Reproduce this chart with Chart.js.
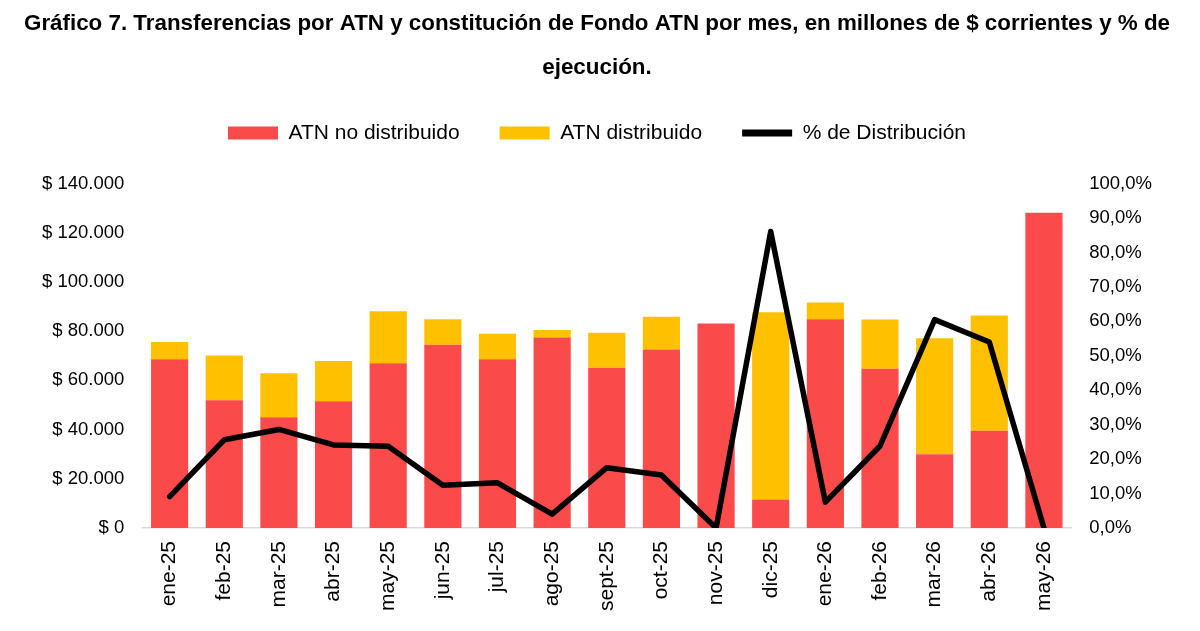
<!DOCTYPE html>
<html>
<head>
<meta charset="utf-8">
<script src="https://cdn.jsdelivr.net/npm/chart.js@4"></script>
<style>
	body { margin: 0; background: #fff; }
	#wrap { width: 1200px; height: 631px; }
</style>
</head>
<body>
<div id="wrap"><canvas id="canvas"></canvas></div>
<script>
var meses = ["ene-25", "feb-25", "mar-25", "abr-25", "may-25", "jun-25", "jul-25", "ago-25", "sept-25", "oct-25", "nov-25", "dic-25", "ene-26", "feb-26", "mar-26", "abr-26", "may-26"];
// millones de $
var noDistribuido = [68600, 51900, 45000, 51500, 67000, 74500, 68600, 77400, 65100, 72600, 83100, 11600, 84800, 64700, 30000, 39500, 128100];
var distribuido = [7000, 18200, 17900, 16400, 21100, 10400, 10400, 3100, 14300, 13300, 0, 76100, 6900, 20000, 47100, 46900, 0];
// % de distribucion (fraccion)
var porcDistribucion = [0.091, 0.256, 0.286, 0.241, 0.237, 0.124, 0.131, 0.040, 0.175, 0.154, 0, 0.861, 0.075, 0.238, 0.605, 0.540, 0];

var tituloLineas = ["Gráfico 7. Transferencias por ATN y constitución de Fondo ATN por mes, en millones de $ corrientes y % de", "ejecución."];

function pesos(v) {
	var s = String(Math.round(v)).replace(/\B(?=(\d{3})+(?!\d))/g, ".");
	return "$ " + s;
}

function porcentaje(v) {
	return (v * 100).toFixed(1).replace(".", ",") + "%";
}

// espacio extra debajo de la leyenda
var legendSpace = {
	id: 'legendSpace',
	beforeInit: function(chart) {
		var fitOrig = chart.legend.fit;
		chart.legend.fit = function() {
			fitOrig.bind(chart.legend)();
			this.height += 30;
		};
	}
};

window.onload = function() {
	Chart.defaults.font.family = "'Liberation Sans', Arial, sans-serif";
	Chart.defaults.color = '#000';
	var ctx = "canvas";
	window.myChart = new Chart(ctx, {
		type: 'bar',
		data: {
			labels: meses,
			datasets: [
			{
				type: 'line',
				label: '% de Distribución',
				data: porcDistribucion,
				yAxisID: 'y2',
				borderColor: '#000',
				backgroundColor: '#000',
				borderWidth: 5.5,
				borderCapStyle: 'round',
				borderJoinStyle: 'round',
				pointRadius: 0,
				tension: 0,
				order: 0
			},
			{
				label: 'ATN no distribuido',
				data: noDistribuido,
				backgroundColor: '#FA4A4A',
				stack: 's1',
				order: 1
			},
			{
				label: 'ATN distribuido',
				data: distribuido,
				backgroundColor: '#FFC000',
				stack: 's1',
				order: 1
			}
			]
		},
		options: {
			responsive: true,
			maintainAspectRatio: false,
			animation: false,
			datasets: {
				bar: { barPercentage: 0.68, categoryPercentage: 1 }
			},
			layout: {
				padding: { left: 24, right: 30, top: 0, bottom: 7 }
			},
			plugins: {
				title: {
					display: true,
					text: tituloLineas,
					font: { family: "'Liberation Sans Narrow', 'Liberation Sans', sans-serif", size: 22.4, weight: 'bold', lineHeight: 2.0 },
					padding: { top: 1, bottom: -8 }
				},
				legend: {
					position: 'top',
					labels: {
						font: { size: 21 },
						usePointStyle: true,
						pointStyleWidth: 50,
						boxHeight: 13,
						padding: 40,
						generateLabels: function(chart) {
							var items = Chart.defaults.plugins.legend.labels.generateLabels(chart);
							items.forEach(function(it) {
								if (it.datasetIndex === 0) {
									it.pointStyle = 'line';
									it.lineWidth = 7;
									it.strokeStyle = '#000';
								} else {
									it.pointStyle = 'rect';
									it.lineWidth = 0;
								}
							});
							items.sort(function(a, b) { return (a.datasetIndex === 0) - (b.datasetIndex === 0) || a.datasetIndex - b.datasetIndex; });
							return items;
						}
					}
				},
				tooltip: { enabled: false }
			},
			scales: {
				x: {
					stacked: true,
					grid: { display: false, drawTicks: false },
					border: { display: true, color: '#D9D9D9', width: 1.5 },
					ticks: { minRotation: 90, maxRotation: 90, font: { size: 21 }, padding: 13 }
				},
				y: {
					stacked: true,
					min: 0,
					max: 140000,
					grid: { display: false, drawTicks: false },
					border: { display: false },
					ticks: { stepSize: 20000, font: { size: 18.5 }, padding: 18, callback: function(v) { return pesos(v); } }
				},
				y2: {
					position: 'right',
					min: 0,
					max: 1,
					grid: { display: false, drawTicks: false },
					border: { display: false },
					ticks: { stepSize: 0.1, font: { size: 18.5 }, padding: 18, callback: function(v) { return porcentaje(v); } }
				}
			}
		},
		plugins: [legendSpace]
	});
};
</script>
</body>
</html>
